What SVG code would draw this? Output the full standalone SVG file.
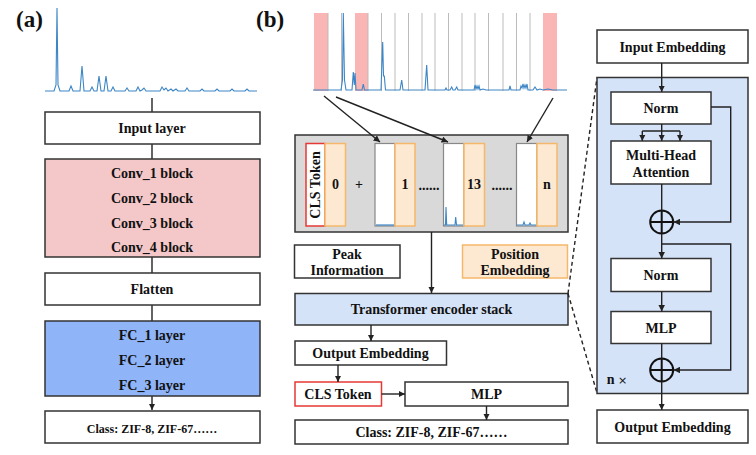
<svg xmlns="http://www.w3.org/2000/svg" width="756" height="455" viewBox="0 0 756 455">
<defs>
<marker id="ah" viewBox="0 0 10 10" refX="10" refY="5" markerWidth="6.5" markerHeight="6.5" markerUnits="userSpaceOnUse" orient="auto"><path d="M0,0 L10,5 L0,10 Z" fill="#222"/></marker>
</defs>
<style>
.t{font-family:"Liberation Serif","Times New Roman",serif;font-weight:bold;font-size:14px;fill:#111;text-anchor:middle}
.s{font-size:12px}
.lbl{font-family:"Liberation Serif","Times New Roman",serif;font-weight:bold;font-size:23px;fill:#111}
.box{fill:#fff;stroke:#333;stroke-width:1.5}
.pink{fill:#f4c8c8;stroke:#333;stroke-width:1.5}
.blue{fill:#8fb4f8;stroke:#333;stroke-width:1.5}
.lb{fill:#d5e3f8;stroke:#333;stroke-width:1.5}
.peach{fill:#fde8d2;stroke:#f5b86a;stroke-width:1.5}
.red{fill:#fff;stroke:#e53935;stroke-width:1.5}
.col{fill:#fff;stroke:#888;stroke-width:1.2}
.ln{stroke:#222;stroke-width:1.4;fill:none}
.ar{stroke:#222;stroke-width:1.4;fill:none;marker-end:url(#ah)}
.sp{stroke:#3d86c6;stroke-width:1.1;fill:none}
.vg{stroke:#bbb;stroke-width:1}
.pr{fill:#f9a8a8;opacity:0.85}
</style>
<rect width="756" height="455" fill="#fff"/>

<text class="lbl" x="16" y="27">(a)</text>
<text class="lbl" x="256" y="27">(b)</text>

<!-- panel a spectrum -->
<g id="spectrum-a">
<polyline class="sp" points="45,91 54,91 56,85 57,8 58,85 60,91 69,91 71,86 73,91 80,91 82,66 84,91 90,91 92,87 94,91 97,91 99,76 101,91 104,91 106,76 108,91 111,91 113,87 115,91 125,91 127,88 129,91 136,91 138,87 140,91 142,90 144,88 146,91 160,91 162,87 164,90 166,88 168,91 171,89 173,91 176,89 178,91 185,91 187,88 189,91 200,91 202,89 204,91 215,91 217,89 219,91 230,91 232,89 234,91 245,91 247,89 249,91 257,91"/>
</g>

<g id="connectors-a">
<line class="ln" x1="152" y1="98" x2="152" y2="112"/>
<line class="ln" x1="152" y1="144" x2="152" y2="159"/>
<line class="ln" x1="152" y1="257" x2="152" y2="273"/>
<line class="ln" x1="152" y1="305" x2="152" y2="321"/>
<line class="ar" x1="152" y1="396" x2="152" y2="410"/>
</g>

<g id="input-layer"><rect class="box" x="45" y="112" width="215" height="32"/><text class="t" x="152" y="133">Input layer</text></g>
<g id="conv-blocks"><rect class="pink" x="45" y="159" width="215" height="98"/>
<text class="t" x="152" y="177.5">Conv_1 block</text>
<text class="t" x="152" y="202.5">Conv_2 block</text>
<text class="t" x="152" y="227.5">Conv_3 block</text>
<text class="t" x="152" y="252">Conv_4 block</text></g>
<g id="flatten"><rect class="box" x="45" y="273" width="215" height="32"/><text class="t" x="152" y="294">Flatten</text></g>
<g id="fc-layers"><rect class="blue" x="45" y="321" width="215" height="75"/>
<text class="t" x="152" y="340">FC_1 layer</text>
<text class="t" x="152" y="365">FC_2 layer</text>
<text class="t" x="152" y="390">FC_3 layer</text></g>
<g id="class-a"><rect class="box" x="45" y="411" width="215" height="32"/><text class="t s" x="152" y="433">Class: ZIF-8, ZIF-67……</text></g>

<!-- panel b spectrum -->
<g id="spectrum-b">
<rect class="pr" x="314" y="13" width="14" height="78"/>
<rect class="pr" x="355" y="13" width="13" height="78"/>
<rect class="pr" x="543" y="13" width="14" height="78"/>
<line class="vg" x1="328" y1="13" x2="328" y2="91"/>
<line class="vg" x1="341.5" y1="13" x2="341.5" y2="91"/>
<line class="vg" x1="368" y1="13" x2="368" y2="91"/>
<line class="vg" x1="381.5" y1="13" x2="381.5" y2="91"/>
<line class="vg" x1="395" y1="13" x2="395" y2="91"/>
<line class="vg" x1="408.5" y1="13" x2="408.5" y2="91"/>
<line class="vg" x1="422" y1="13" x2="422" y2="91"/>
<line class="vg" x1="435" y1="13" x2="435" y2="91"/>
<line class="vg" x1="448.5" y1="13" x2="448.5" y2="91"/>
<line class="vg" x1="462" y1="13" x2="462" y2="91"/>
<line class="vg" x1="475" y1="13" x2="475" y2="91"/>
<line class="vg" x1="488.5" y1="13" x2="488.5" y2="91"/>
<line class="vg" x1="503" y1="13" x2="503" y2="91"/>
<line class="vg" x1="516.5" y1="13" x2="516.5" y2="91"/>
<line class="vg" x1="530" y1="13" x2="530" y2="91"/>
<polyline class="sp" points="313,90 341,90 342.5,80 343.3,13 344.5,80 346,90 352,90 353.3,72 354.3,85 355,73 356,90 362,90 363.3,84 364.5,90 381,90 382.7,42 383.5,76 384.3,76 385.5,90 400,90 401.7,80 403,90 425,90 426.7,65 428,90 445,90 446,88 447,90 450,90 451.7,87 453,90 455,90 456.7,87 458,90 474,90 475,85 476,89 477,86 478,89 479,86 480,90 483,89 486,90 509,90 510,86 511,90 520,90 521,86 522,88 523,84 524,88 525,85 526,88 527,84 528,90 533,90 535,87 537,90 540,89 543,90 548,89 553,90 567,90"/>
</g>

<g id="embedding-stack">
<rect x="295" y="135" width="273" height="97" fill="#d9d9d9" stroke="#333" stroke-width="1.5"/>
<rect class="red" x="306" y="143.5" width="19" height="82.5"/>
<text class="t" x="0" y="0" transform="translate(320,185) rotate(-90)">CLS Token</text>
<rect class="peach" x="325" y="143.5" width="20.5" height="82.5"/>
<text class="t" x="335.5" y="189">0</text>
<text class="t" x="359" y="189">+</text>
<rect class="col" x="375" y="143.5" width="20" height="82.5"/>
<line stroke="#3d86c6" stroke-width="1.2" x1="376" y1="225" x2="394" y2="225"/>
<rect class="peach" x="395" y="143.5" width="20" height="82.5"/>
<text class="t" x="405" y="189">1</text>
<text class="t" x="429" y="190">......</text>
<rect class="col" x="443.5" y="143.5" width="20.5" height="82.5"/>
<polyline class="sp" points="444,225 445.5,225 446,207 446.7,225 455,225 455.7,217 456.5,225 463,225"/>
<rect class="peach" x="464" y="143.5" width="20.5" height="82.5"/>
<text class="t" x="474" y="189">13</text>
<text class="t" x="502" y="190">......</text>
<rect class="col" x="516.5" y="143.5" width="20.5" height="82.5"/>
<polyline class="sp" points="517,225 523,225 524,222 525,225 529,225 530,223 531,225 536,225"/>
<rect class="peach" x="537" y="143.5" width="20" height="82.5"/>
<text class="t" x="547" y="189">n</text>
</g>

<g id="peak-information"><rect class="box" x="294.5" y="245" width="105.5" height="33"/>
<text class="t" x="347" y="259">Peak</text><text class="t" x="347" y="275">Information</text></g>
<g id="position-embedding"><rect class="peach" x="462.5" y="245" width="105" height="33"/>
<text class="t" x="515" y="259">Position</text><text class="t" x="515" y="275">Embedding</text></g>
<g id="transformer-encoder-stack"><rect class="lb" x="295" y="293.5" width="273" height="31.5"/><text class="t" x="431.5" y="314">Transformer encoder stack</text></g>
<g id="output-embedding-b"><rect class="box" x="295" y="341" width="151.5" height="24"/><text class="t" x="370.5" y="358">Output Embedding</text></g>
<g id="cls-token-b"><rect class="red" x="295" y="382" width="86.5" height="24"/><text class="t" x="338" y="399">CLS Token</text></g>
<g id="mlp-b"><rect class="box" x="405" y="382" width="163" height="24"/><text class="t" x="486.5" y="399">MLP</text></g>
<g id="class-b"><rect class="box" x="295" y="420" width="273" height="24"/><text class="t" x="431.5" y="437">Class: ZIF-8, ZIF-67……</text></g>

<g id="connectors-b">
<line class="ar" x1="324" y1="96" x2="380" y2="142"/>
<line class="ar" x1="336" y1="97" x2="448" y2="142"/>
<line class="ar" x1="553" y1="98" x2="527" y2="142"/>
<line class="ar" x1="431.5" y1="232" x2="431.5" y2="293"/>
<line class="ar" x1="371" y1="325" x2="371" y2="341"/>
<line class="ar" x1="338" y1="365" x2="338" y2="382"/>
<line class="ar" x1="381.5" y1="394" x2="405" y2="394"/>
<line class="ar" x1="486.5" y1="406" x2="486.5" y2="420"/>
<line class="ln" stroke-dasharray="4,3" x1="568" y1="293.5" x2="597" y2="77.5"/>
<line class="ln" stroke-dasharray="4,3" x1="568" y1="293.5" x2="597" y2="393"/>
</g>

<!-- right panel: encoder detail -->
<g id="encoder-block"><rect class="lb" x="597" y="77.5" width="151" height="316"/>
<text class="t" x="617" y="384">n <tspan font-weight="normal" font-family="'DejaVu Sans',sans-serif" font-size="11">×</tspan></text></g>
<g id="input-embedding"><rect class="box" x="597" y="30" width="151" height="33"/><text class="t" x="672.5" y="51.5">Input Embedding</text></g>
<g id="norm-1"><rect class="box" x="611" y="92" width="100" height="32"/><text class="t" x="661" y="113">Norm</text></g>
<g id="multi-head-attention"><rect class="box" x="611" y="141" width="100" height="43"/>
<text class="t" x="661" y="159.5">Multi-Head</text><text class="t" x="661" y="176.5">Attention</text></g>
<g id="add-1"><circle cx="661.7" cy="222" r="11.5" fill="none" stroke="#111" stroke-width="2"/>
<line stroke="#111" stroke-width="2" x1="650.2" y1="222" x2="673.2" y2="222"/><line stroke="#111" stroke-width="2" x1="661.7" y1="210.5" x2="661.7" y2="233.5"/></g>
<g id="norm-2"><rect class="box" x="611" y="258.5" width="100" height="33"/><text class="t" x="661" y="280">Norm</text></g>
<g id="mlp-r"><rect class="box" x="611" y="311.5" width="100" height="32"/><text class="t" x="661" y="332.5">MLP</text></g>
<g id="add-2"><circle cx="661.7" cy="370" r="11.5" fill="none" stroke="#111" stroke-width="2"/>
<line stroke="#111" stroke-width="2" x1="650.2" y1="370" x2="673.2" y2="370"/><line stroke="#111" stroke-width="2" x1="661.7" y1="358.5" x2="661.7" y2="381.5"/></g>
<g id="output-embedding-r"><rect class="box" x="597" y="410" width="151" height="33"/><text class="t" x="672.5" y="431.5">Output Embedding</text></g>

<g id="connectors-r">
<line class="ar" x1="661.7" y1="63" x2="661.7" y2="92"/>
<line class="ln" x1="661.7" y1="124" x2="661.7" y2="131"/>
<line class="ln" x1="642.3" y1="131" x2="680" y2="131"/>
<line class="ar" x1="642.3" y1="131" x2="642.3" y2="141"/>
<line class="ar" x1="661.7" y1="131" x2="661.7" y2="141"/>
<line class="ar" x1="680" y1="131" x2="680" y2="141"/>
<polyline class="ar" points="711,107 730.7,107 730.7,222 673.5,222"/>
<line class="ln" x1="661.7" y1="184" x2="661.7" y2="210.5"/>
<line class="ar" x1="661.7" y1="233.5" x2="661.7" y2="258.5"/>
<polyline class="ar" points="661.7,244 730.7,244 730.7,370 673.5,370"/>
<line class="ar" x1="661.7" y1="291.5" x2="661.7" y2="311.5"/>
<line class="ln" x1="661.7" y1="343.5" x2="661.7" y2="358.5"/>
<line class="ar" x1="661.7" y1="381.5" x2="661.7" y2="410"/>
</g>
</svg>
